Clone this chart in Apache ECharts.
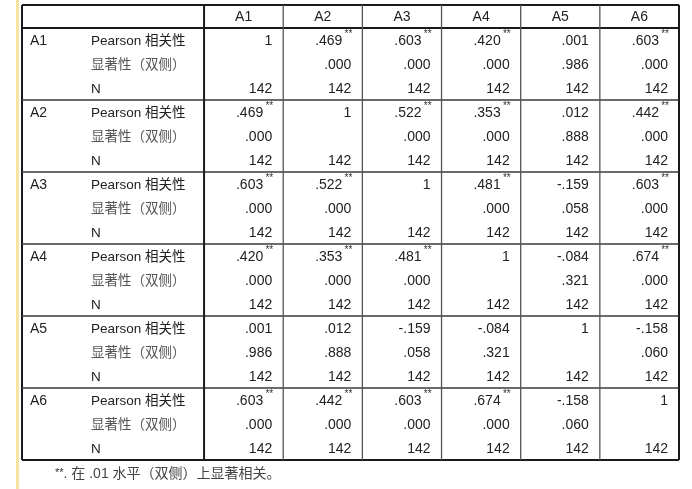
<!DOCTYPE html>
<html><head><meta charset="utf-8">
<script src="https://cdn.jsdelivr.net/npm/echarts/dist/echarts.min.js"></script>
<style>html,body{margin:0;padding:0;background:#fff}#c{width:692px;height:489px}</style>
</head><body><div id="c"></div>
<script>
// ---- data ----
const variables = ['A1', 'A2', 'A3', 'A4', 'A5', 'A6'];
const statLabels = ['Pearson 相关性', '显著性（双侧）', 'N'];
const pearsonR = [
  [1, 0.469, 0.603, 0.420, 0.001, 0.603],
  [0.469, 1, 0.522, 0.353, 0.012, 0.442],
  [0.603, 0.522, 1, 0.481, -0.159, 0.603],
  [0.420, 0.353, 0.481, 1, -0.084, 0.674],
  [0.001, 0.012, -0.159, -0.084, 1, -0.158],
  [0.603, 0.442, 0.603, 0.674, -0.158, 1]
];
const sigTwoTailed = [
  [null, 0.000, 0.000, 0.000, 0.986, 0.000],
  [0.000, null, 0.000, 0.000, 0.888, 0.000],
  [0.000, 0.000, null, 0.000, 0.058, 0.000],
  [0.000, 0.000, 0.000, null, 0.321, 0.000],
  [0.986, 0.888, 0.058, 0.321, null, 0.060],
  [0.000, 0.000, 0.000, 0.000, 0.060, null]
];
const sampleN = [
  [142, 142, 142, 142, 142, 142],
  [142, 142, 142, 142, 142, 142],
  [142, 142, 142, 142, 142, 142],
  [142, 142, 142, 142, 142, 142],
  [142, 142, 142, 142, 142, 142],
  [142, 142, 142, 142, 142, 142]
];
const footnote = '在 .01 水平（双侧）上显著相关。';
const alpha = 0.01;

// ---- layout (axis units: one data column = 1, one row = 1) ----
const LABEL_W = 2.3;     // width of the two label columns
const STAT_X = 0.86;     // start of the statistic label column
const HDR = 23 / 24;     // header row height
const NCOL = variables.length;
const XMAX = LABEL_W + NCOL;
const YMAX = HDR + variables.length * statLabels.length;

const fmt = v => {
  if (v === 1) return '1';
  const s = v.toFixed(3);
  return s.replace(/^(-?)0\./, '$1.');
};

const LAT = 'Arial, "Liberation Sans", sans-serif';
const MIX = 'Arial, "Liberation Sans", "Noto Sans CJK SC", sans-serif';

// cells: [x0, x1, y0, y1]
const cellData = [];
const cellInfo = [];
variables.forEach((v, c) => {
  cellData.push([LABEL_W + c, LABEL_W + c + 1, 0, HDR]);
  cellInfo.push({kind: 'header', text: v});
});
variables.forEach((rv, r) => {
  const g0 = HDR + r * 3;
  cellData.push([0, STAT_X, g0, g0 + 1]);
  cellInfo.push({kind: 'rowvar', text: rv});
  statLabels.forEach((s, k) => {
    cellData.push([STAT_X, LABEL_W, g0 + k, g0 + k + 1]);
    cellInfo.push({kind: 'stat', text: s});
  });
  variables.forEach((cv, c) => {
    const x0 = LABEL_W + c, x1 = x0 + 1;
    const sig = sigTwoTailed[r][c];
    cellData.push([x0, x1, g0, g0 + 1]);
    cellInfo.push({kind: 'value', text: fmt(pearsonR[r][c]), star: sig !== null && sig < alpha});
    cellData.push([x0, x1, g0 + 1, g0 + 2]);
    cellInfo.push({kind: 'value', text: sig === null ? '' : fmt(sig), star: false});
    cellData.push([x0, x1, g0 + 2, g0 + 3]);
    cellInfo.push({kind: 'value', text: String(sampleN[r][c]), star: false});
  });
});

// lines: [x0, y0, x1, y1, weight]
const lineData = [];
lineData.push([0, 0, XMAX, 0, 2], [0, YMAX, XMAX, YMAX, 2], [0, 0, 0, YMAX, 2], [XMAX, 0, XMAX, YMAX, 2]);
lineData.push([0, HDR, XMAX, HDR, 2]);
for (let g = 1; g < variables.length; g++) lineData.push([0, HDR + g * 3, XMAX, HDR + g * 3, 1]);
lineData.push([LABEL_W, 0, LABEL_W, YMAX, 2]);
for (let c = 1; c < NCOL; c++) lineData.push([LABEL_W + c, 0, LABEL_W + c, YMAX, 0]);

const chart = echarts.init(document.getElementById('c'), null, {renderer: 'canvas'});
chart.setOption({
  backgroundColor: '#ffffff',
  animation: false,
  title: {
    text: '{s|**}. ' + footnote,
    left: 50, top: 462,
    textStyle: {
      fontSize: 14, fontWeight: 'normal', color: '#444', fontFamily: MIX,
      rich: {s: {fontSize: 11, fontFamily: LAT, color: '#333', padding: [0, 0, 4, 0]}}
    }
  },
  graphic: [{
    type: 'rect', left: 16, top: 0, z: -1,
    shape: {width: 3, height: 489},
    style: {fill: '#f8e3a0'}
  }],
  grid: {left: 22, right: 13, top: 5, bottom: 29},
  xAxis: {type: 'value', min: 0, max: XMAX, show: false},
  yAxis: {type: 'value', min: 0, max: YMAX, inverse: true, show: false},
  series: [{
    type: 'custom',
    coordinateSystem: 'cartesian2d',
    data: cellData,
    silent: true,
    renderItem: (params, api) => {
      const info = cellInfo[params.dataIndex];
      const p0 = api.coord([api.value(0), api.value(2)]);
      const p1 = api.coord([api.value(1), api.value(3)]);
      const cy = (p0[1] + p1[1]) / 2 + 1;
      const children = [];
      if (info.kind === 'header') {
        children.push({type: 'text', style: {text: info.text, x: (p0[0] + p1[0]) / 2, y: cy,
          align: 'center', verticalAlign: 'middle', fontSize: 14, fontFamily: LAT, fill: '#222'}});
      } else if (info.kind === 'rowvar') {
        children.push({type: 'text', style: {text: info.text, x: p0[0] + 8, y: cy,
          align: 'left', verticalAlign: 'middle', fontSize: 14, fontFamily: LAT, fill: '#222'}});
      } else if (info.kind === 'stat') {
        children.push({type: 'text', style: {text: info.text, x: p0[0] + 1, y: cy,
          align: 'left', verticalAlign: 'middle', fontSize: 13.5, fontFamily: MIX,
          fill: /^[A-Za-z]/.test(info.text) ? '#222' : '#555'}});
      } else if (info.text) {
        const right = p1[0] - 11;
        children.push({type: 'text', style: {text: info.text, x: info.star ? right - 9 : right, y: cy,
          align: 'right', verticalAlign: 'middle', fontSize: 14, fontFamily: LAT, fill: '#222'}});
        if (info.star) {
          children.push({type: 'text', style: {text: '**', x: right + 1, y: cy - 6.5,
            align: 'right', verticalAlign: 'middle', fontSize: 10, fontFamily: LAT, fill: '#333'}});
        }
      }
      return {type: 'group', children};
    }
  }, {
    type: 'custom',
    coordinateSystem: 'cartesian2d',
    data: lineData,
    silent: true,
    z: 3,
    renderItem: (params, api) => {
      const a = api.coord([api.value(0), api.value(1)]);
      const b = api.coord([api.value(2), api.value(3)]);
      const w = api.value(4);
      const style = w === 2 ? {stroke: '#1a1a1a', lineWidth: 2}
                  : w === 1 ? {stroke: '#3a3a3a', lineWidth: 1.5}
                  : {stroke: '#555', lineWidth: 1.3};
      return {type: 'line', shape: {x1: a[0], y1: a[1], x2: b[0], y2: b[1]}, style};
    }
  }]
});
</script>
</body></html>
